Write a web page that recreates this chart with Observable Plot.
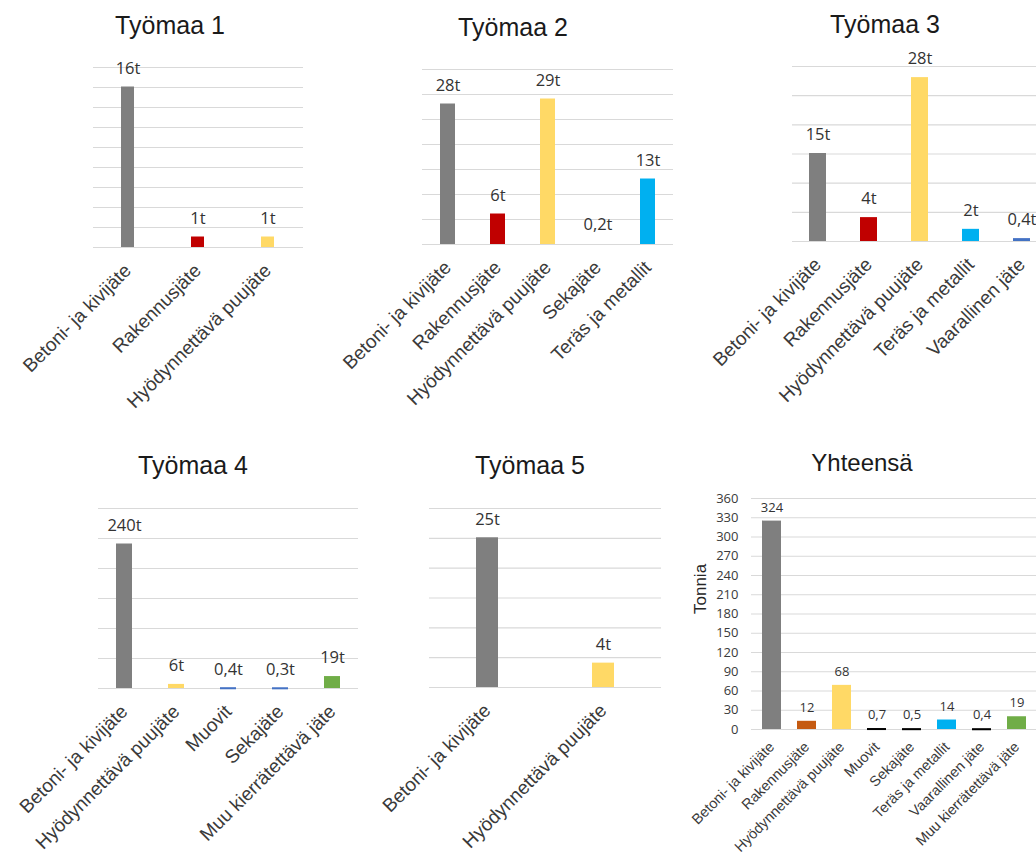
<!DOCTYPE html>
<html>
<head>
<meta charset="utf-8">
<script src="https://cdn.jsdelivr.net/npm/d3@7"></script>
<script src="https://cdn.jsdelivr.net/npm/@observablehq/plot@0.6"></script>
<style>
  html, body { margin: 0; padding: 0; background: #fff; overflow: hidden; }
  #board { position: relative; width: 1036px; height: 859px; overflow: hidden; background: #fff; }
  .title { position: absolute; width: 240px; text-align: center; font-family: "Liberation Sans", Arial, sans-serif;
           color: #1a1a1a; line-height: 24px; white-space: nowrap; }
  .panel { position: absolute; }
</style>
</head>
<body>
<div id="board"></div>
<script>
// Rakennusjätteet työmaittain, tonnia
const site1Categories = ["Betoni- ja kivijäte", "Rakennusjäte", "Hyödynnettävä puujäte"];
const site1Values = [16, 1, 1];
const site1Grid = [0, 2, 4, 6, 8, 10, 12, 14, 16, 18];

const site2Categories = ["Betoni- ja kivijäte", "Rakennusjäte", "Hyödynnettävä puujäte", "Sekajäte", "Teräs ja metallit"];
const site2Values = [28, 6, 29, 0.2, 13];
const site2Grid = [0, 5, 10, 15, 20, 25, 30, 35];

const site3Categories = ["Betoni- ja kivijäte", "Rakennusjäte", "Hyödynnettävä puujäte", "Teräs ja metallit", "Vaarallinen jäte"];
const site3Values = [15, 4, 28, 2, 0.4];
const site3Grid = [0, 5, 10, 15, 20, 25, 30];

const site4Categories = ["Betoni- ja kivijäte", "Hyödynnettävä puujäte", "Muovit", "Sekajäte", "Muu kierrätettävä jäte"];
const site4Values = [240, 6, 0.4, 0.3, 19];
const site4Grid = [0, 50, 100, 150, 200, 250, 300];

const site5Categories = ["Betoni- ja kivijäte", "Hyödynnettävä puujäte"];
const site5Values = [25, 4];
const site5Grid = [0, 5, 10, 15, 20, 25, 30];

const totalCategories = ["Betoni- ja kivijäte", "Rakennusjäte", "Hyödynnettävä puujäte", "Muovit", "Sekajäte",
                         "Teräs ja metallit", "Vaarallinen jäte", "Muu kierrätettävä jäte"];
const totalValues = [324, 12, 68, 0.7, 0.5, 14, 0.4, 19];
const totalTicks = [0, 30, 60, 90, 120, 150, 180, 210, 240, 270, 300, 330, 360];

// Värit jätelajeittain
const siteColors = {
  "Betoni- ja kivijäte": "#7f7f7f",
  "Rakennusjäte": "#c00000",
  "Hyödynnettävä puujäte": "#ffd966",
  "Sekajäte": "#4472c4",
  "Muovit": "#4472c4",
  "Teräs ja metallit": "#00b0f0",
  "Vaarallinen jäte": "#4472c4",
  "Muu kierrätettävä jäte": "#70ad47"
};
const totalColors = {
  ...siteColors,
  "Rakennusjäte": "#c55a11",
  "Sekajäte": "#000000",
  "Muovit": "#000000",
  "Vaarallinen jäte": "#000000"
};

const board = document.getElementById("board");
const valueFont = "'Open Sans', 'Noto Sans', sans-serif";
const labelFont = "'Liberation Sans', Arial, sans-serif";

function addTitle(text, cx, baseline, size) {
  const div = document.createElement("div");
  div.className = "title";
  div.textContent = text;
  div.style.fontSize = size + "px";
  div.style.left = (cx - 120) + "px";
  div.style.top = (baseline - 20.5) + "px";
  board.appendChild(div);
}

function addPanel(cfg) {
  const mL = 110, mR = 30, mT = 40, mB = 180;
  const rows = cfg.categories.map((c, i) => ({
    cat: c,
    value: cfg.values[i],
    color: (cfg.hidden || []).includes(c) ? "none" : cfg.colors[c]
  }));
  const fmt = v => String(v).replace(".", ",") + cfg.unit;
  const marks = [
    Plot.ruleY(cfg.grid, {stroke: "#d9d9d9", strokeWidth: 1.2}),
    Plot.barY(rows, {x: "cat", y: "value", fill: "color"}),
    Plot.tickY(rows, {x: "cat", y: "value", stroke: "color", strokeWidth: 2}),
    Plot.text(rows, {x: "cat", y: "value", text: d => fmt(d.value), dy: -cfg.valueGap,
                     fontSize: cfg.valueSize, fontFamily: valueFont, fill: "#333333"}),
    Plot.axisX({tickRotate: -45, tickSize: 0, tickPadding: cfg.catPad, fontSize: cfg.catSize,
                fontFamily: labelFont, label: null})
  ];
  if (cfg.yTicks) {
    marks.push(Plot.axisY({ticks: cfg.yTicks, tickSize: 0, tickPadding: 13, fontSize: 13,
                           fontFamily: valueFont, label: null}));
    marks.push(Plot.text(["Tonnia"], {text: d => d, frameAnchor: "left", dx: -51, rotate: -90,
                                      fontSize: 17, fontFamily: labelFont, fill: "#262626"}));
  }
  const svg = Plot.plot({
    width: (cfg.x1 - cfg.x0) + mL + mR,
    height: (cfg.yBase - cfg.yTop) + mT + mB,
    marginLeft: mL, marginRight: mR, marginTop: mT, marginBottom: mB,
    x: {type: "band", domain: cfg.categories, paddingInner: cfg.pad, paddingOuter: cfg.pad / 2, align: 0.5, axis: null},
    y: {domain: cfg.domain, axis: null},
    color: {type: "identity"},
    style: {background: "none", overflow: "visible", color: "#3a3a3a", fontFamily: labelFont},
    marks
  });
  svg.classList.add("panel");
  svg.style.left = (cfg.x0 - mL) + "px";
  svg.style.top = (cfg.yTop - mT) + "px";
  board.appendChild(svg);
  addTitle(cfg.title, cfg.tx, cfg.ty, cfg.titleSize || 25);
}

const siteText = {unit: "t", valueSize: 16.5, valueGap: 19, catSize: 19, catPad: 20};

addPanel({...siteText, title: "Työmaa 1", tx: 170, ty: 33,
  categories: site1Categories, values: site1Values, grid: site1Grid, domain: [0, 18],
  colors: siteColors, x0: 93, x1: 303, yTop: 67, yBase: 247, pad: 0.81});

addPanel({...siteText, title: "Työmaa 2", tx: 513, ty: 35,
  categories: site2Categories, values: site2Values, grid: site2Grid, domain: [0, 35],
  colors: siteColors, hidden: ["Sekajäte"], x0: 422, x1: 673, yTop: 69, yBase: 244, pad: 0.7});

addPanel({...siteText, title: "Työmaa 3", tx: 885, ty: 32,
  categories: site3Categories, values: site3Values, grid: site3Grid, domain: [0, 30],
  colors: siteColors, x0: 792, x1: 1047, yTop: 66, yBase: 241, pad: 0.67});

addPanel({...siteText, title: "Työmaa 4", tx: 193, ty: 473,
  categories: site4Categories, values: site4Values, grid: site4Grid, domain: [0, 300],
  colors: siteColors, x0: 98, x1: 358, yTop: 508, yBase: 688, pad: 0.7});

addPanel({...siteText, title: "Työmaa 5", tx: 530, ty: 473,
  categories: site5Categories, values: site5Values, grid: site5Grid, domain: [0, 30],
  colors: siteColors, x0: 429, x1: 661, yTop: 508, yBase: 687, pad: 0.81});

addPanel({unit: "", valueSize: 13, valueGap: 14, catSize: 14.5, catPad: 15,
  title: "Yhteensä", tx: 862, ty: 471, titleSize: 24,
  categories: totalCategories, values: totalValues, grid: totalTicks, domain: [0, 360],
  colors: totalColors, x0: 751, x1: 1037, yTop: 498, yBase: 729, pad: 0.47, yTicks: totalTicks});
</script>
</body>
</html>
